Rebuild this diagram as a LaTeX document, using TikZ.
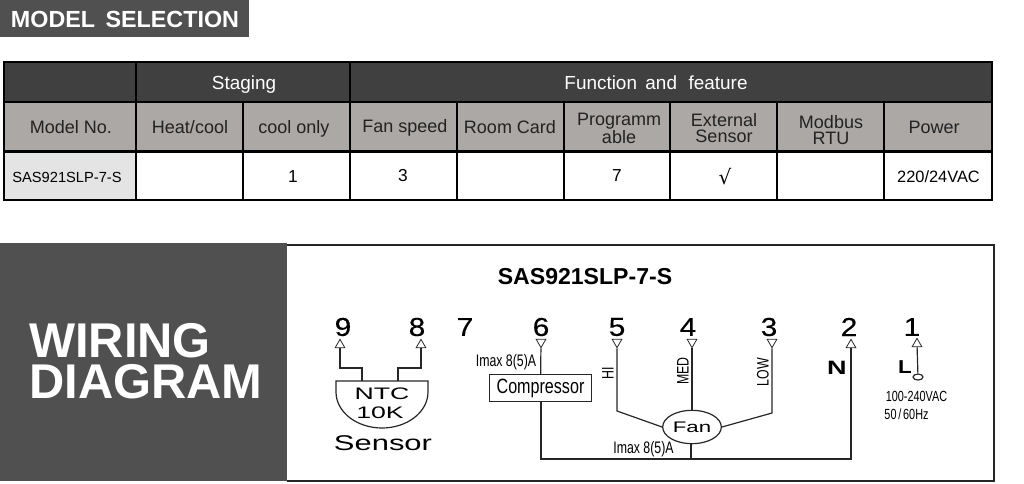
\documentclass[tikz,border=0pt]{standalone}
\usepackage{fontspec}
\usepackage{graphicx}
\setmainfont{Liberation Sans}
\newfontfamily\heavyfont[FakeBold=0.25]{Liberation Sans}
\usetikzlibrary{shapes.geometric}
\definecolor{headdark}{HTML}{404040}
\definecolor{headgray}{HTML}{ABA8A6}
\definecolor{modelgray}{HTML}{E4E4E4}
\definecolor{paneldark}{HTML}{505050}
\definecolor{inkgray}{HTML}{222222}
\newcommand{\pxf}[1]{\fontsize{#1}{#1}\selectfont}
\newcommand{\tightf}{\fontsize{13.5}{12.5}\selectfont}
\newcommand{\cond}[1]{\scalebox{0.74}[1]{#1}}
\newcommand{\wide}[2][1.15]{\scalebox{#1}[1]{#2}}
\tikzset{
  cell/.style={inner sep=0pt,align=center,text=inkgray,font=\pxf{13.5}},
  headcell/.style={inner sep=0pt,text=white,font=\pxf{14.2}},
  valcell/.style={inner sep=0pt,text=black,font=\pxf{13}},
  wire/.style={line width=0.9pt,black!85},
  termup/.style={draw=black!85,fill=white,line width=0.6pt,regular polygon,regular polygon sides=3,inner sep=0pt,minimum size=8.5pt},
  termdown/.style={termup,shape border rotate=180},
  digit/.style={inner sep=0pt,font=\heavyfont\pxf{19.5}},
  small/.style={inner sep=0pt,font=\pxf{12.5}},
  speedlabel/.style={inner sep=0pt,rotate=90,font=\pxf{12.5}},
  bigtext/.style={inner sep=0pt,anchor=west,text=white,font=\bfseries\pxf{36.6}},
  sensortext/.style={inner sep=0pt,font=\pxf{12.5}},
}
\begin{document}
\begin{tikzpicture}[x=0.75pt,y=-0.75pt]
  \useasboundingbox (0,0) rectangle (1024,483);
  % title bar
  \fill[paneldark] (0,0) rectangle (249,37);
  \node[inner sep=0pt,text=white,font=\bfseries\pxf{17.5}] (title) at (125,19) {MODEL\, SELECTION};
  % table
  \fill[headdark] (4,62) rectangle (992,102);
  \fill[headgray] (4,102) rectangle (992,151);
  \fill[modelgray] (4,151) rectangle (136,200);
  \draw[line width=2.2pt] (4,62) rectangle (992,200);
  \draw[line width=2.2pt] (4,102) -- (992,102) (4,151.5) -- (992,151.5);
  \foreach \colx in {136,350}
    \draw[line width=2.2pt] (\colx,62) -- (\colx,200);
  \foreach \colx in {243,457,564,670,777,884}
    \draw[line width=2.2pt] (\colx,102) -- (\colx,200);
  \draw
    (244,85) node[headcell] (staging){Staging}
    (656,83) node[headcell] (function){Function\, and\,\, feature}
    (71,127) node[cell] (modelno){Model No.}
    (190,127) node[cell] (heatcool){Heat/cool}
    (294,129) node[cell] (coolonly){cool only}
    (405,128) node[cell] (fanspeed){Fan speed}
    (510,127) node[cell] (roomcard){Room Card}
    (619,128) node[cell,font=\tightf] (programm){Programm\\able}
    (724,128) node[cell,font=\tightf] (external){External\\Sensor}
    (831,130) node[cell,font=\tightf] (modbus){Modbus\\RTU}
    (934,127) node[cell] (power){Power}
    (67,177) node[valcell,font=\pxf{11}] (sas){SAS921SLP-7-S}
    (293,177) node[valcell] (vone){1}
    (403,176) node[valcell] (vthree){3}
    (617,176) node[valcell] (vseven){7}
    (725,177) node[valcell,font=\fontspec{DejaVu Sans}\pxf{15}] (vcheck){√}
    (938.5,177) node[valcell,font=\pxf{12.3}] (vpower){220/24VAC};
  % wiring panel
  \fill[paneldark] (0,243) rectangle (287,481);
  \draw[line width=1.5pt,black!85] (287,244.5) -- (994,244.5) -- (994,480.5) -- (287,480.5);
  \draw
    (29,341) node[bigtext] (wiring){WIRING}
    (29,382) node[bigtext] (diagram){DIAGRAM};
  \node[inner sep=0pt,font=\bfseries\pxf{17.3}] (model) at (585,277) {SAS921SLP-7-S};
  % terminals
  \draw
    (343,327) node[digit] (n9){\wide{9}}
    (417,327) node[digit] (n8){\wide{8}}
    (465,327) node[digit] (n7){\wide{7}}
    (541,327) node[digit] (n6){\wide{6}}
    (617,327) node[digit] (n5){\wide{5}}
    (688,327) node[digit] (n4){\wide{4}}
    (769,327) node[digit] (n3){\wide{3}}
    (849,327) node[digit] (n2){\wide{2}}
    (912,327) node[digit] (n1){\wide{1}};
  \draw
    (340,345) node[termup] (t9){}
    (421,345) node[termup] (t8){}
    (541,342) node[termdown] (t6){}
    (617,342) node[termdown] (t5){}
    (692,342) node[termdown] (t4){}
    (772,342) node[termdown] (t3){}
    (851,345) node[termup] (t2){}
    (917,344) node[termup] (t1){};
  % sensor
  \draw[wire] (336,381) -- (428,381) -- (428,392) arc[start angle=0,end angle=-180,x radius=46,y radius=-36] -- cycle;
  \coordinate (sl) at (362,381);
  \coordinate (sr) at (398,381);
  \draw[wire] (t9) |- (362,368) -- (sl);
  \draw[wire] (t8) |- (398,368) -- (sr);
  \draw
    (382,394) node[sensortext] (ntc){\wide[1.6]{NTC}}
    (380,413) node[sensortext] (tenk){\wide[1.6]{10K}}
    (383,443) node[sensortext,font=\pxf{16}] (sensor){\wide[1.45]{Sensor}};
  % compressor and fan
  \node[draw=black!85,line width=0.9pt,minimum width=77pt,minimum height=20pt,inner sep=0pt] (comp) at (540.5,388) {\pxf{15.5}\scalebox{0.78}[1]{Compressor}};
  \node[draw=black!85,line width=0.9pt,ellipse,minimum width=44pt,minimum height=25pt,inner sep=0pt,font=\pxf{11.5}] (fan) at (692,427) {\wide[1.45]{Fan}};
  \coordinate (hi) at (617,411);
  \coordinate (low) at (772,413);
  \coordinate (busl) at (541,459);
  \coordinate (busm) at (691,459);
  \coordinate (busr) at (851,459);
  \draw[wire] (t6) -- (comp);
  \draw[wire] (t5) -- (hi) -- (fan.west);
  \draw[wire] (t4) -- (fan);
  \draw[wire] (t3) -- (low) -- (fan.east);
  \draw[wire] (comp.south -| busl) -- (busl) -- (busr) -- (t2);
  \draw[wire] (fan.south -| busm) -- (busm);
  % power input
  \node[draw=black!85,line width=0.9pt,ellipse,minimum width=7.5pt,minimum height=4.5pt,inner sep=0pt] (lterm) at (918,377) {};
  \draw[wire] (lterm) -- (t1);
  % labels
  \draw
    (506,362) node[small] (imaxa){\cond{Imax 8(5)A}}
    (643.5,449) node[small] (imaxb){\cond{Imax 8(5)A}}
    (608,373) node[speedlabel] (lhi){\cond{HI}}
    (683,371) node[speedlabel] (lmed){\cond{MED}}
    (763,372) node[speedlabel] (llow){\cond{LOW}}
    (837,368) node[inner sep=0pt,font=\bfseries\pxf{14.5}] (lblN){\wide[1.4]{N}}
    (905,367) node[inner sep=0pt,font=\bfseries\pxf{14}] (lblL){\wide[1.2]{L}}
    (916.5,396) node[small,font=\pxf{11}] (volt){\cond{100-240VAC}}
    (906.5,414) node[small,font=\pxf{11}] (freq){\cond{50\,/\,60Hz}};
\end{tikzpicture}
\end{document}
